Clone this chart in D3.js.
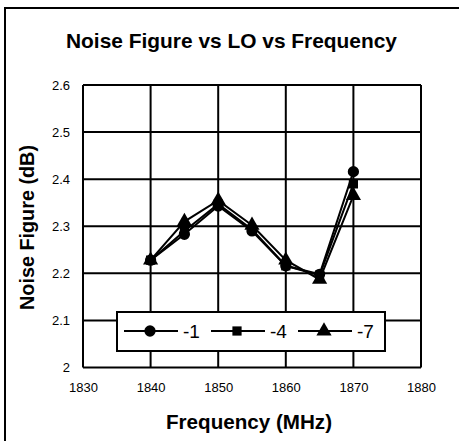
<!DOCTYPE html>
<html>
<head>
<meta charset="utf-8">
<script src="https://cdn.jsdelivr.net/npm/d3@7"></script>
<style>
  body { margin: 0; background: #fff; overflow: hidden; }
  text { fill: #000; }
</style>
</head>
<body>
<div id="chart"></div>
<script>
// data
var freqs = [1840, 1845, 1850, 1855, 1860, 1865, 1870];
var lo1 = [2.228, 2.283, 2.343, 2.29, 2.216, 2.198, 2.416];
var lo4 = [2.228, 2.29, 2.347, 2.293, 2.216, 2.196, 2.39];
var lo7 = [2.228, 2.31, 2.355, 2.302, 2.228, 2.187, 2.365];
var seriesNames = ["-1", "-4", "-7"];
var xTicks = [1830, 1840, 1850, 1860, 1870, 1880];
var yTicks = [2, 2.1, 2.2, 2.3, 2.4, 2.5, 2.6];

var width = 459,
    height = 441;

var bold = "'Liberation Sans', Arial, sans-serif";
var plain = "'Liberation Sans', Arial, sans-serif";

var svg = d3.select("#chart")
  .append("svg")
    .attr("width", width)
    .attr("height", height)
    .style("display", "block");

// outer frame (runs off the right and bottom)
svg.append("rect")
  .attr("x", 5).attr("y", 8)
  .attr("width", 500).attr("height", 500)
  .attr("fill", "none")
  .attr("stroke", "#000")
  .attr("stroke-width", 2);

var x = d3.scaleLinear().domain([1830, 1880]).range([83, 421]);
var y = d3.scaleLinear().domain([2, 2.6]).range([367.5, 85]);

// grid
svg.append("g")
  .selectAll("line")
  .data(xTicks)
  .enter().append("line")
    .attr("x1", d => x(d)).attr("x2", d => x(d))
    .attr("y1", y(2)).attr("y2", y(2.6))
    .attr("stroke", "#000").attr("stroke-width", 2);

svg.append("g")
  .selectAll("line")
  .data(yTicks)
  .enter().append("line")
    .attr("x1", x(1830)).attr("x2", x(1880))
    .attr("y1", d => y(d)).attr("y2", d => y(d))
    .attr("stroke", "#000").attr("stroke-width", 2);

// axes
var xAxis = svg.append("g")
  .attr("transform", "translate(0," + y(2) + ")")
  .call(d3.axisBottom(x).tickValues(xTicks).tickSize(0).tickPadding(15).tickFormat(d3.format("d")));
xAxis.select(".domain").remove();
xAxis.selectAll("text").style("font-family", plain).style("font-size", "13px");

var yAxis = svg.append("g")
  .attr("transform", "translate(" + x(1830) + ",0)")
  .call(d3.axisLeft(y).tickValues(yTicks).tickSize(0).tickPadding(13).tickFormat(d => d === 2 ? "2" : d3.format(".1f")(d)));
yAxis.select(".domain").remove();
yAxis.selectAll("text").style("font-family", plain).style("font-size", "13px");

// titles (condensed to match the narrow face)
svg.append("text")
  .attr("x", 66).attr("y", 48)
  .attr("textLength", 331).attr("lengthAdjust", "spacingAndGlyphs")
  .style("font-family", bold).style("font-weight", "bold").style("font-size", "21px")
  .text("Noise Figure vs LO vs Frequency");

svg.append("text")
  .attr("x", 166).attr("y", 429)
  .attr("textLength", 166).attr("lengthAdjust", "spacingAndGlyphs")
  .style("font-family", bold).style("font-weight", "bold").style("font-size", "21px")
  .text("Frequency (MHz)");

svg.append("text")
  .attr("transform", "translate(34,310) rotate(-90)")
  .attr("textLength", 165).attr("lengthAdjust", "spacingAndGlyphs")
  .style("font-family", bold).style("font-weight", "bold").style("font-size", "21px")
  .text("Noise Figure (dB)");

// series
var series = [lo1, lo4, lo7].map(function(vals, i) {
  return { name: seriesNames[i], values: vals.map((v, j) => ({ f: freqs[j], v: v })) };
});
var symbols = [d3.symbolCircle, d3.symbolSquare, d3.symbolTriangle];
var symSizes = [100, 85, 100];

var line = d3.line().x(d => x(d.f)).y(d => y(d.v));

series.forEach(function(s) {
  svg.append("path")
    .datum(s.values)
    .attr("d", line)
    .attr("fill", "none")
    .attr("stroke", "#000")
    .attr("stroke-width", 2);
});
series.forEach(function(s, i) {
  svg.append("g")
    .selectAll("path")
    .data(s.values)
    .enter().append("path")
      .attr("transform", d => "translate(" + x(d.f) + "," + y(d.v) + ")")
      .attr("d", d3.symbol().type(symbols[i]).size(symSizes[i]))
      .attr("fill", "#000");
});

// legend
var legend = svg.append("g");
legend.append("rect")
  .attr("x", 117).attr("y", 312)
  .attr("width", 268).attr("height", 39)
  .attr("fill", "#fff")
  .attr("stroke", "#000").attr("stroke-width", 2);

var legX = [124, 211, 298];
seriesNames.forEach(function(name, i) {
  var g = legend.append("g").attr("transform", "translate(" + legX[i] + ",331)");
  g.append("line").attr("x1", 0).attr("x2", 54).attr("y1", 0).attr("y2", 0)
    .attr("stroke", "#000").attr("stroke-width", 2);
  g.append("path").attr("transform", "translate(26,0)")
    .attr("d", d3.symbol().type(symbols[i]).size(symSizes[i]))
    .attr("fill", "#000");
  g.append("text").attr("x", 59).attr("y", 7)
    .style("font-family", plain).style("font-size", "19px")
    .text(name);
});
</script>
</body>
</html>
